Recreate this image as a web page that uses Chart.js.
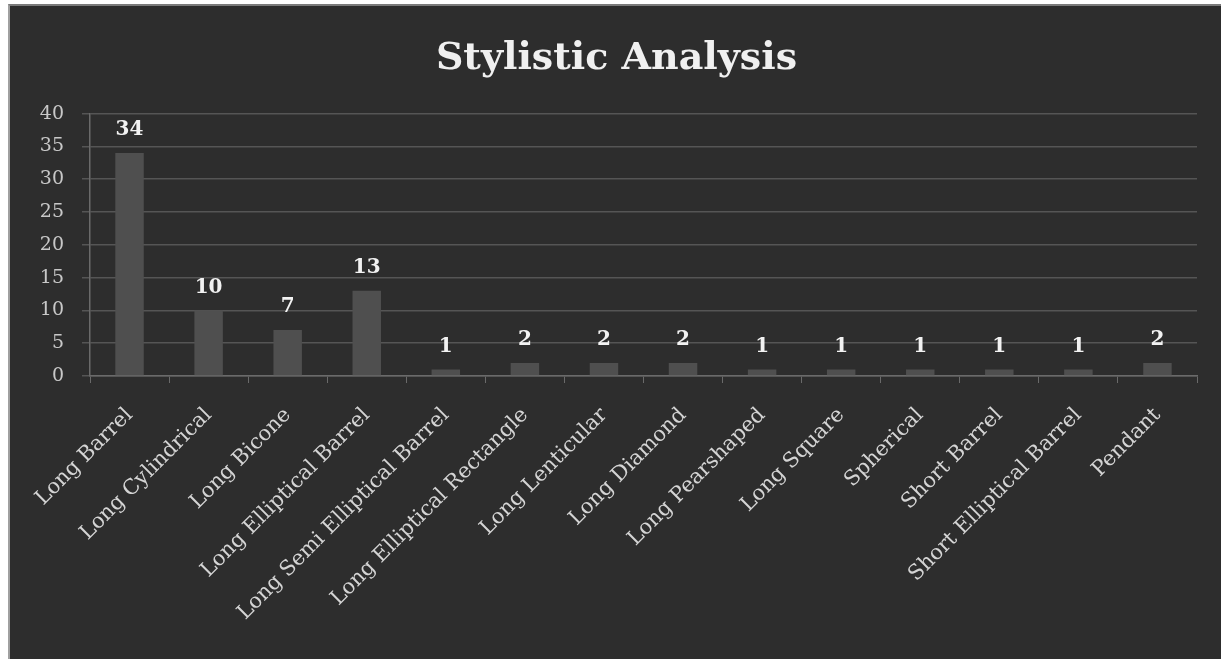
<!DOCTYPE html>
<html>
<head>
<meta charset="utf-8">
<script src="https://cdn.jsdelivr.net/npm/chart.js@4/dist/chart.umd.min.js"></script>
<style>
  body { margin: 0; background: #fff; width: 1221px; height: 659px; overflow: hidden; position: relative; }
  #panel { position: absolute; left: 8px; top: 4px; right: 0; bottom: 0; background: #2d2d2d; border-left: 2px solid #a0a0a0; border-top: 2px solid #7a7a7a; }
  #stylisticChart { position: absolute; left: 0; top: 0; }
</style>
</head>
<body>
<div id="panel"></div>
<canvas id="stylisticChart" width="1221" height="659"></canvas>
<script>
const categorias = [
  "Long Barrel",
  "Long Cylindrical",
  "Long Bicone",
  "Long Elliptical Barrel",
  "Long Semi Elliptical Barrel",
  "Long Elliptical Rectangle",
  "Long Lenticular",
  "Long Diamond",
  "Long Pearshaped",
  "Long Square",
  "Spherical",
  "Short Barrel",
  "Short Elliptical Barrel",
  "Pendant",
];
const quantidades = [34, 10, 7, 13, 1, 2, 2, 2, 1, 1, 1, 1, 1, 2];
const yTicks = [0, 5, 10, 15, 20, 25, 30, 35, 40];

const fonte = "'DejaVu Serif', 'Liberation Serif', serif";

// desenha os valores acima de cada barra
const rotulosBarras = {
  id: "rotulosBarras",
  afterDatasetsDraw(chart) {
    const ctx = chart.ctx;
    const meta = chart.getDatasetMeta(0);
    ctx.save();
    ctx.font = "bold 20px " + fonte;
    ctx.fillStyle = "#f2f2f2";
    ctx.textAlign = "center";
    ctx.textBaseline = "middle";
    meta.data.forEach((bar, i) => {
      ctx.fillText(String(quantidades[i]), bar.x, bar.y - 23);
    });
    ctx.restore();
  },
};

const ctx = document.getElementById("stylisticChart");

new Chart(ctx.getContext("2d"), {
  type: "bar",
  data: {
    labels: categorias,
    datasets: [
      {
        data: quantidades,
        backgroundColor: "#4f4f4f",
        borderWidth: 0,
        categoryPercentage: 0.72,
        barPercentage: 0.5,
      },
    ],
  },
  options: {
    responsive: false,
    animation: false,
    layout: {
      padding: { left: 36, right: 24, top: 0, bottom: 0 },
    },
    plugins: {
      legend: { display: false },
      tooltip: { enabled: false },
      title: {
        display: true,
        text: "Stylistic Analysis",
        color: "#f0f0f0",
        font: { family: fonte, size: 38, weight: "bold" },
        padding: { top: 36, bottom: 32 },
      },
    },
    scales: {
      x: {
        grid: {
          drawOnChartArea: false,
          color: "#6a6a6a",
          tickLength: 7,
          offset: true,
        },
        border: { color: "#6a6a6a", width: 1.5 },
        ticks: {
          color: "#d4d4d4",
          font: { family: fonte, size: 21 },
          maxRotation: 45,
          minRotation: 45,
          autoSkip: false,
          padding: 20,
        },
        afterFit(scale) {
          scale.height = 283;
        },
      },
      y: {
        min: 0,
        max: 40,
        afterBuildTicks(scale) {
          scale.ticks = yTicks.map((v) => ({ value: v }));
        },
        grid: {
          color: "#555555",
          lineWidth: 1.5,
          tickLength: 8,
        },
        border: { color: "#6a6a6a", width: 1.5 },
        ticks: {
          color: "#c8c8c8",
          font: { family: fonte, size: 19 },
          padding: 18,
        },
        afterFit(scale) {
          scale.width = 54;
        },
      },
    },
  },
  plugins: [rotulosBarras],
});
</script>
</body>
</html>
